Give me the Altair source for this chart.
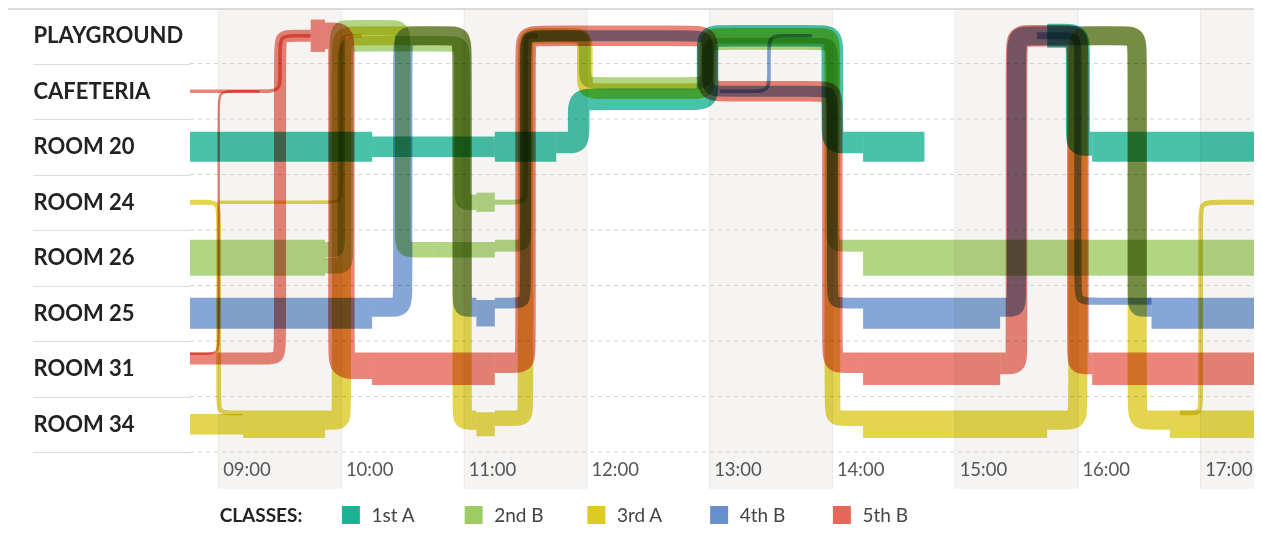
import math
import altair as alt
import pandas as pd

# ---------------- data ----------------
ROOMS = ["PLAYGROUND", "CAFETERIA", "ROOM 20", "ROOM 24", "ROOM 26", "ROOM 25", "ROOM 31", "ROOM 34"]
HOURS = ["09:00", "10:00", "11:00", "12:00", "13:00", "14:00", "15:00", "16:00", "17:00"]
SHADED_HOURS = ["09:00", "11:00", "13:00", "15:00", "17:00"]
DAY_START, DAY_END = "08:46", "17:30"
CLASSES = ["1st A", "2nd B", "3rd A", "4th B", "5th B"]
COLORS = ["#1ab394", "#9fcb65", "#dccb22", "#6690cc", "#e76657"]
CLASS_SIZE = [25, 30, 23, 26, 27]

P, C, R20, R24, R26, R25, R31, R34 = ROOMS

# (students, [(time, room[, lane]), ...])
MOVES_1A = [
    (25, [("08:46", R20), ("10:15", R20)]),
    (17, [("10:15", R20), ("11:15", R20)]),
    (25, [("11:15", R20), ("11:45", R20)]),
    (18, [("11:45", R20), ("11:56", R20), ("11:56", C, 1), ("12:59", C, 1), ("12:59", P), ("14:00", P),
          ("14:00", R20), ("14:15", R20)]),
    (25, [("14:15", R20), ("14:45", R20)]),
    (20, [("15:45", P), ("16:00", P), ("16:00", R20), ("16:07", R20)]),
    (25, [("16:07", R20), ("17:30", R20)]),
]
MOVES_2B = [
    (30, [("08:46", R26), ("09:52", R26)]),
    (13, [("09:52", R26, -1), ("09:58", R26, -1), ("09:58", P, -1), ("10:30", P, -1), ("10:30", R26, -1),
          ("10:45", R26, -1)]),
    (13, [("09:52", R26, 1), ("10:02", R26, 1), ("10:02", P, 1), ("10:59", P, 1), ("10:59", R24), ("11:06", R24)]),
    (13, [("10:45", R26, -1), ("11:15", R26, -1)]),
    (16, [("11:06", R24), ("11:15", R24)]),
    (4, [("11:15", R24), ("11:30", R24), ("11:30", P), ("11:36", P)]),
    (10, [("11:15", R26), ("11:30", R26), ("11:30", P), ("11:59", P), ("11:59", C, -1), ("12:59", C, -1),
          ("12:59", P, 1), ("14:00", P, 1), ("14:00", R26), ("14:15", R26)]),
    (30, [("14:15", R26), ("17:30", R26)]),
]
MOVES_3A = [
    (4, [("08:46", R24), ("09:00", R24), ("09:00", R34), ("09:12", R34)]),
    (3, [("09:00", R24), ("10:00", R24), ("10:00", P), ("10:10", P)]),
    (17, [("08:46", R34), ("09:12", R34)]),
    (23, [("09:12", R34), ("09:52", R34)]),
    (16, [("09:52", R34), ("10:00", R34), ("10:00", P), ("10:59", P), ("10:59", R34), ("11:06", R34)]),
    (20, [("11:06", R34), ("11:15", R34)]),
    (13, [("11:15", R34), ("11:30", R34), ("11:30", P), ("11:59", P), ("11:59", C), ("12:59", C), ("12:59", P),
          ("14:00", P), ("14:00", R34), ("14:15", R34)]),
    (23, [("14:15", R34), ("15:45", R34)]),
    (16, [("15:45", R34), ("16:00", R34), ("16:00", P), ("16:29", P), ("16:29", R34), ("16:45", R34)]),
    (23, [("16:45", R34), ("17:30", R34)]),
    (4, [("16:50", R34), ("17:00", R34), ("17:00", R24), ("17:30", R24)]),
]
MOVES_4B = [
    (26, [("08:46", R25), ("10:15", R25)]),
    (16, [("10:15", R25), ("10:30", R25), ("10:30", P), ("10:59", P), ("10:59", R25), ("11:06", R25)]),
    (22, [("11:06", R25), ("11:15", R25)]),
    (9, [("11:15", R25), ("11:30", R25), ("11:30", P), ("12:59", P), ("12:59", C), ("14:00", C), ("14:00", R25),
         ("14:15", R25)]),
    (3, [("13:05", C), ("13:29", C), ("13:29", P), ("13:50", P)]),
    (26, [("14:15", R25), ("15:22", R25)]),
    (16, [("15:22", R25), ("15:30", R25), ("15:30", P), ("16:29", P), ("16:29", R25), ("16:36", R25)]),
    (6, [("15:40", P), ("16:00", P), ("16:00", R25), ("16:36", R25)]),
    (26, [("16:36", R25), ("17:30", R25)]),
]
MOVES_5B = [
    (3, [("08:46", C), ("09:30", C), ("09:30", P), ("09:45", P)]),
    (2, [("08:46", R31), ("09:00", R31), ("09:00", C), ("09:20", C)]),
    (10, [("08:46", R31), ("09:30", R31), ("09:30", P), ("09:45", P)]),
    (27, [("09:45", P), ("09:52", P)]),
    (22, [("09:52", P), ("10:00", P), ("10:00", R31), ("10:15", R31)]),
    (27, [("10:15", R31), ("11:15", R31)]),
    (17, [("11:15", R31), ("11:30", R31), ("11:30", P), ("12:59", P), ("12:59", C), ("14:00", C), ("14:00", R31),
          ("14:15", R31)]),
    (27, [("14:15", R31), ("15:22", R31)]),
    (18, [("15:22", R31), ("15:30", R31), ("15:30", P), ("16:00", P), ("16:00", R31), ("16:07", R31)]),
    (27, [("16:07", R31), ("17:30", R31)]),
]
ALL_MOVES = [MOVES_1A, MOVES_2B, MOVES_3A, MOVES_4B, MOVES_5B]

# ---------------- layout constants ----------------
W, H = 1072, 444
LEFT = 182
FONT = "Lato"
PX_PER_STUDENT = 1.2
LEG_Y = H + 63


def hours(t):
    h, m = t.split(":")
    return int(h) + int(m) / 60


H0, H1 = hours(DAY_START), hours(DAY_END)
PXH = W / (H1 - H0)          # px per hour
PXR = H / len(ROOMS)         # px per row
RADIUS = 16                  # corner rounding (px)
LANE_PX = 8

rows = []
seg = 0
for ci, (cls, moves) in enumerate(zip(CLASSES, ALL_MOVES)):
    full = CLASS_SIZE[ci]
    counts = {}
    for n, path in moves:
        if n == full:
            counts[path[0][1]] = counts.get(path[0][1], 0) + 1
    home = max(counts, key=counts.get)
    for n, path in moves:
        moving = len({p[1] for p in path}) > 1
        pts = []
        for p in path:
            t, room = p[0], p[1]
            yv = (ROOMS.index(room) + 0.5) * PXR
            if len(p) > 2:
                yv += p[2] * LANE_PX
            elif moving and room == home:
                yv -= (full - n) * PX_PER_STUDENT / 2
            pts.append(((hours(t) - H0) * PXH, yv))
        out = [pts[0]]
        for i in range(1, len(pts) - 1):
            (x0, y0), (x1, y1), (x2, y2) = pts[i - 1], pts[i], pts[i + 1]
            li = math.hypot(x1 - x0, y1 - y0)
            lo = math.hypot(x2 - x1, y2 - y1)
            di = min(RADIUS, li / 2.2)
            do = min(RADIUS, lo / 2.2)
            out.append((x1 - (x1 - x0) / li * di, y1 - (y1 - y0) / li * di))
            out.append((x1, y1))
            out.append((x1 + (x2 - x1) / lo * do, y1 + (y2 - y1) / lo * do))
        out.append(pts[-1])
        for k, (x, y) in enumerate(out):
            rows.append({"seg": seg, "cls": cls, "n": n, "seq": k, "h": H0 + x / PXH, "y": y / PXR})
        seg += 1
flows_df = pd.DataFrame(rows)

xs = alt.Scale(domain=[H0, H1], nice=False, zero=False)
ys = alt.Scale(domain=[0, len(ROOMS)], reverse=True, nice=False, zero=False)
cs = alt.Scale(domain=CLASSES, range=COLORS)

room_js = "[" + ",".join("'%s'" % r for r in ROOMS) + "]"
hour_vals = [hours(t) for t in HOURS]

X_AXIS = alt.Axis(
    values=hour_vals, labelExpr="(datum.value < 10 ? '0' : '') + datum.value + ':00'",
    labelAlign="left", labelOffset=4, labelPadding=17, labelBaseline="middle",
    ticks=False, tickSize=0, domain=False, grid=False, title=None, labelFlush=False,
    labelFontSize=18.5, labelColor="#555555", labelFont=FONT, labelOverlap=False, zindex=1)
Y_AXIS = alt.Axis(
    values=list(range(1, len(ROOMS) + 1)), labelExpr=room_js + "[datum.value - 1]",
    labelAlign="left", labelBaseline="middle", labelOffset=-PXR / 2, labelPadding=0,
    tickSize=LEFT - 25, tickColor="#dadada", tickWidth=1, domain=False, grid=False, title=None,
    labelFontSize=22, labelFontWeight="bold", labelColor="#222222", labelFont=FONT,
    labelOverlap=False, labelFlush=False, labelLimit=300)

# shaded hour bands
band_df = pd.DataFrame({"start": [hours(t) for t in SHADED_HOURS]})
band_df["end"] = band_df["start"].apply(lambda v: min(v + 1, H1))
bands = alt.Chart(band_df).mark_rect(color="#f5f4f2").encode(
    x=alt.X("start:Q", scale=xs, axis=X_AXIS), x2="end:Q",
    y=alt.value(0), y2=alt.value(H + 37))

edge_df = pd.DataFrame({"h": hour_vals})
edges = alt.Chart(edge_df).mark_rule(color="#e9e7e4", strokeWidth=1).encode(
    x=alt.X("h:Q", scale=xs, axis=X_AXIS), y=alt.value(0), y2=alt.value(H + 37))

grid_df = pd.DataFrame({"b": list(range(1, len(ROOMS) + 1))})
grid = alt.Chart(grid_df).mark_rule(color="#d2d2d2", strokeWidth=1, strokeDash=[4, 4]).encode(
    y=alt.Y("b:Q", scale=ys, axis=Y_AXIS), x=alt.value(0), x2=alt.value(W))

top_rule = alt.Chart(pd.DataFrame({"k": [0]})).mark_rule(color="#dcdad7", strokeWidth=2).encode(
    x=alt.value(-LEFT), x2=alt.value(W), y=alt.value(1))

flows = alt.Chart(flows_df).mark_line(
    interpolate="basis", opacity=0.8, blend="multiply", strokeCap="butt", strokeJoin="round"
).encode(
    x=alt.X("h:Q", scale=xs, axis=X_AXIS),
    y=alt.Y("y:Q", scale=ys, axis=Y_AXIS),
    color=alt.Color("cls:N", scale=cs, legend=None),
    strokeWidth=alt.StrokeWidth("n:Q", scale=alt.Scale(domain=[0, 30], range=[0, 30 * PX_PER_STUDENT]),
                                legend=None),
    detail="seg:N",
    order=alt.Order("seq:Q"),
)

# legend row aligned with hour positions
leg_df = pd.DataFrame({"cls": CLASSES, "h": [hours(t) for t in HOURS[1:1 + len(CLASSES)]]})
swatches = alt.Chart(leg_df).mark_square(size=324, opacity=1, xOffset=9.5).encode(
    x=alt.X("h:Q", scale=xs, axis=X_AXIS), y=alt.value(LEG_Y),
    color=alt.Color("cls:N", scale=cs, legend=None))
leg_text = alt.Chart(leg_df).mark_text(align="left", baseline="middle", dx=30, fontSize=19, font=FONT,
                                       color="#444444").encode(
    x=alt.X("h:Q", scale=xs, axis=X_AXIS), y=alt.value(LEG_Y + 1), text="cls:N")
leg_title = alt.Chart(pd.DataFrame({"h": [hours(HOURS[0])], "t": ["CLASSES:"]})).mark_text(
    align="left", baseline="middle", dx=1, fontSize=19, fontWeight="bold", font=FONT, color="#222222").encode(
    x=alt.X("h:Q", scale=xs, axis=X_AXIS), y=alt.value(LEG_Y + 1), text="t:N")

chart = alt.layer(bands, edges, grid, top_rule, flows, swatches, leg_text, leg_title).properties(
    width=W, height=H,
    autosize=alt.AutoSizeParams(type="none"),
    padding={"left": LEFT, "top": 0, "right": -8, "bottom": 517 - H},
).configure_view(stroke=None)

chart.save("out.html", embed_options={"renderer": "svg", "actions": False})
